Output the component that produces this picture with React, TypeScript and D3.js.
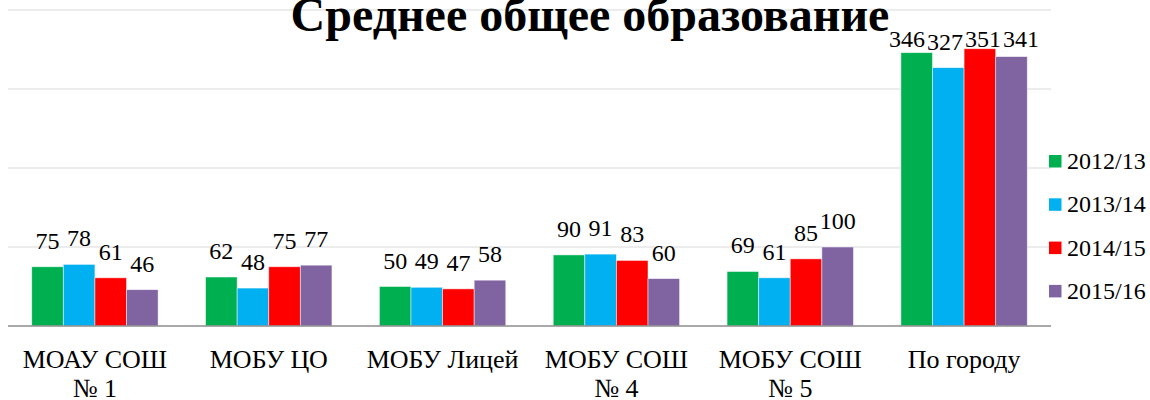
import * as d3 from 'd3'
import { useEffect } from 'react'

const title = 'Среднее общее образование'
const schools = [
  ['МОАУ СОШ', '№ 1'],
  ['МОБУ ЦО'],
  ['МОБУ Лицей'],
  ['МОБУ СОШ', '№ 4'],
  ['МОБУ СОШ', '№ 5'],
  ['По городу'],
]
const years = ['2012/13', '2013/14', '2014/15', '2015/16']
const colors = ['#00B050', '#00B0F0', '#FF0000', '#8064A2']

const y2012 = [75, 62, 50, 90, 69, 346]
const y2013 = [78, 48, 49, 91, 61, 327]
const y2014 = [61, 75, 47, 83, 85, 351]
const y2015 = [46, 77, 58, 60, 100, 341]
const series = [y2012, y2013, y2014, y2015]
const yTicks = [0, 100, 200, 300, 400]

const width = 1150
const height = 400
const font = 'Liberation Serif, Times New Roman, DejaVu Serif, serif'
const fs = 24

export default function App() {
  useEffect(() => {
    document.body.style.margin = '0'
  }, [])

  const x0 = d3
    .scaleBand()
    .domain(schools.map((_, i) => String(i)))
    .range([8, 1051])
    .paddingInner(0)
  const gap = x0.bandwidth() * 0.273
  const x1 = d3
    .scaleBand()
    .domain(years)
    .range([gap / 2, x0.bandwidth() - gap / 2])
  const y = d3.scaleLinear().domain([0, 400]).range([326, 10])

  // data labels, spread apart when they'd collide (like Excel does)
  const labels = schools.map((_, gi) => {
    const items = years.map((yr, si) => {
      const v = series[si][gi]
      const w = String(v).length * fs * 0.5 + 2
      const cx = (x0(String(gi)) ?? 0) + (x1(yr) ?? 0) + x1.bandwidth() / 2
      return { v, w, cx, yb: Math.max(y(v) - 18, 47) }
    })
    const total = d3.sum(items, d => d.w)
    const span = items[items.length - 1].cx - items[0].cx + (items[0].w + items[items.length - 1].w) / 2
    if (total > span) {
      let left = d3.mean(items, d => d.cx)! - total / 2
      items.forEach(d => {
        d.cx = left + d.w / 2
        left += d.w
      })
    }
    return items
  })

  return (
    <svg width={width} height={height} style={{ display: 'block' }}>
      <rect width={width} height={height} fill="#fff" />
      {yTicks.slice(1).map(t => (
        <line key={t} x1={8} x2={1051} y1={y(t)} y2={y(t)} stroke="#d9d9d9" strokeWidth={1.2} />
      ))}
      {schools.map((_, gi) => (
        <g key={gi} transform={`translate(${x0(String(gi))},0)`}>
          {years.map((yr, si) => (
            <rect
              key={yr}
              x={x1(yr)}
              y={y(series[si][gi])}
              width={x1.bandwidth()}
              height={y(0) - y(series[si][gi])}
              fill={colors[si]}
              stroke="#fff"
              strokeOpacity={0.6}
              strokeWidth={0.8}
            />
          ))}
        </g>
      ))}
      <line x1={8} x2={1051} y1={y(0)} y2={y(0)} stroke="#8c8c8c" strokeWidth={1.5} />
      {labels.flat().map((d, i) => (
        <text key={i} x={d.cx} y={d.yb} textAnchor="middle" fontFamily={font} fontSize={fs} fill="#000">
          {d.v}
        </text>
      ))}
      {schools.map((lines, gi) => (
        <text
          key={gi}
          x={(x0(String(gi)) ?? 0) + x0.bandwidth() / 2}
          y={368}
          textAnchor="middle"
          fontFamily={font}
          fontSize={26}
          fill="#000"
        >
          {lines.map((l, li) => (
            <tspan key={li} x={(x0(String(gi)) ?? 0) + x0.bandwidth() / 2} dy={li === 0 ? 0 : 29}>
              {l}
            </tspan>
          ))}
        </text>
      ))}
      {years.map((yr, si) => (
        <g key={yr} transform={`translate(1049,${161 + si * 43.3})`}>
          <rect x={0} y={-6} width={12.5} height={12.5} fill={colors[si]} />
          <text x={18} y={8} fontFamily={font} fontSize={24} fill="#000">
            {yr}
          </text>
        </g>
      ))}
      <text x={590} y={31} textAnchor="middle" fontFamily={font} fontSize={48} fontWeight="bold" fill="#000">
        {title}
      </text>
    </svg>
  )
}
